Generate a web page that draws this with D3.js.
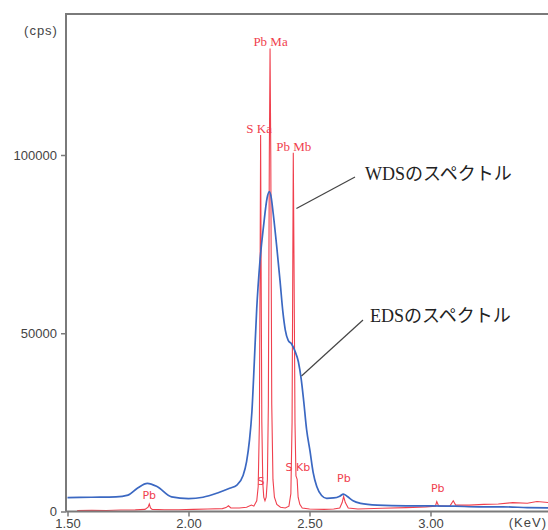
<!DOCTYPE html>
<html>
<head>
<meta charset="utf-8">
<script src="https://cdn.jsdelivr.net/npm/d3@7"></script>
<style>
  body { margin: 0; background: #fff; }
</style>
</head>
<body>
<script>

// EDS spectrum (blue), [keV, cps]
var edsData = [
  [1.50, 3900], [1.60, 4000], [1.70, 4100], [1.75, 4600], [1.79, 6600],
  [1.83, 7900], [1.87, 7000], [1.93, 4100], [2.00, 3600], [2.06, 4000],
  [2.12, 5200], [2.17, 6500], [2.20, 7400], [2.225, 10000], [2.240, 14000],
  [2.252, 20000], [2.262, 28000], [2.272, 42000], [2.282, 57000], [2.295, 70000],
  [2.310, 80000], [2.325, 88000], [2.334, 89700], [2.342, 88000], [2.350, 83600],
  [2.365, 74000], [2.378, 64900], [2.390, 56000], [2.400, 50900], [2.412, 48000],
  [2.426, 47000], [2.440, 45000], [2.454, 42000], [2.466, 37000], [2.476, 31000],
  [2.488, 23000], [2.502, 17000], [2.515, 11000], [2.530, 7000], [2.550, 4500],
  [2.571, 3700], [2.600, 3800], [2.625, 4300], [2.640, 4900], [2.655, 4300],
  [2.680, 3000], [2.711, 2300], [2.78, 1800], [2.90, 1600], [3.00, 1600],
  [3.10, 1500], [3.20, 1300], [3.30, 1300], [3.40, 1100], [3.49, 1000]
];

// WDS spectrum (red), [keV, cps]
var wdsData = [
  [1.54, 300], [1.60, 350], [1.66, 300], [1.72, 400], [1.78, 450],
  [1.82, 600], [1.833, 1200], [1.838, 2100], [1.843, 1000], [1.85, 600],
  [1.90, 500], [1.96, 500], [2.02, 600], [2.08, 700], [2.14, 800],
  [2.155, 1100], [2.165, 1600], [2.175, 1000], [2.21, 1000], [2.24, 1200],
  [2.26, 1800], [2.270, 1500], [2.282, 3000], [2.288, 7000], [2.293, 25000],
  [2.296, 70000], [2.298, 105600], [2.300, 70000], [2.303, 25000], [2.307, 8000],
  [2.311, 4000], [2.316, 3000], [2.321, 4000], [2.326, 9000], [2.330, 30000],
  [2.334, 100000], [2.337, 129900], [2.340, 100000], [2.344, 30000], [2.349, 9000],
  [2.355, 4000], [2.365, 2000], [2.38, 1200], [2.40, 1000], [2.415, 1500],
  [2.423, 5000], [2.428, 25000], [2.431, 70000], [2.433, 100600], [2.436, 70000],
  [2.440, 25000], [2.444, 10000], [2.449, 9000], [2.453, 4000], [2.46, 2000],
  [2.47, 1000], [2.50, 700], [2.56, 600], [2.60, 700], [2.625, 1000],
  [2.635, 2500], [2.641, 4200], [2.648, 2500], [2.66, 1000], [2.70, 700],
  [2.80, 900], [2.90, 1100], [2.98, 1300], [3.02, 1500], [3.026, 2800],
  [3.034, 1500], [3.08, 1500], [3.094, 3000], [3.104, 1800], [3.16, 1800],
  [3.22, 2000], [3.28, 2100], [3.34, 2500], [3.40, 2300], [3.44, 2800], [3.49, 2500]
];

// Axis ticks
var xTicks = [1.50, 2.00, 2.50, 3.00];
var yTicks = [0, 50000, 100000];

// Peak labels: [text, keV, cps]
var bigLabels = [
  ["Pb Ma", 2.339, 130600],
  ["S Ka", 2.292, 106300],
  ["Pb Mb", 2.435, 101200]
];
var smallLabels = [
  ["Pb", 1.838, 3500],
  ["S", 2.300, 7500],
  ["S Kb", 2.452, 11500],
  ["Pb", 2.642, 8200],
  ["Pb", 3.030, 5500]
];

// Annotations: [text, keV of tip, cps of tip]
var notes = [
  ["WDSのスペクトル", 2.446, 85000],
  ["EDSのスペクトル", 2.467, 38000]
];

drawChart();

function drawChart(){

  var w = 548;
  var h = 530;

  var svg = d3.select("body")
              .append("svg")
              .attr("width", w)
              .attr("height", h);

  var left = 66, top = 14, bottom = 511.5;

  var xScale = d3.scaleLinear()
                 .domain([1.5, 3.5])
                 .range([67.5, 67.5 + 2 * 242]);

  var yScale = d3.scaleLinear()
                 .domain([0, 100000])
                 .range([bottom, 155]);

  // Clip for the curves
  svg.append("clipPath")
     .attr("id", "plot")
     .append("rect")
     .attr("x", left)
     .attr("y", top)
     .attr("width", w - left)
     .attr("height", bottom - top);

  var line = d3.line()
               .x(d => xScale(d[0]))
               .y(d => yScale(d[1]));

  var curves = svg.append("g").attr("clip-path", "url(#plot)");

  curves.append("path")
        .datum(wdsData)
        .attr("d", line)
        .attr("fill", "none")
        .attr("stroke", "#f0404e")
        .attr("stroke-width", 1.1);

  curves.append("path")
        .datum(edsData)
        .attr("d", line.curve(d3.curveMonotoneX))
        .attr("fill", "none")
        .attr("stroke", "#3b68c2")
        .attr("stroke-width", 1.7);

  // Frame lines
  var frame = svg.append("g")
                 .attr("stroke", "#7a7a7a")
                 .attr("stroke-width", 2);
  frame.append("line").attr("x1", left).attr("x2", left).attr("y1", top - 1).attr("y2", bottom);
  frame.append("line").attr("x1", left).attr("x2", w).attr("y1", top).attr("y2", top);
  frame.append("line").attr("x1", left).attr("x2", w).attr("y1", bottom).attr("y2", bottom);

  // Axes
  var xAxis = svg.append("g")
                 .attr("transform", `translate(0, ${bottom})`)
                 .call(d3.axisBottom(xScale)
                         .tickValues(xTicks)
                         .tickFormat(d3.format(".2f"))
                         .tickSize(5)
                         .tickPadding(2));

  var yAxis = svg.append("g")
                 .attr("transform", `translate(${left}, 0)`)
                 .call(d3.axisLeft(yScale)
                         .tickValues(yTicks)
                         .tickFormat(d3.format("d"))
                         .tickSize(5)
                         .tickPadding(4));

  [xAxis, yAxis].forEach(function(a){
    a.select(".domain").remove();
    a.selectAll("line").attr("stroke", "#7a7a7a").attr("stroke-width", 1.5);
    a.selectAll("text")
     .attr("fill", "#444")
     .style("font-family", "Liberation Sans, Arial, sans-serif")
     .style("font-size", "13px");
  });

  // Units
  svg.append("text")
     .attr("x", 41)
     .attr("y", 35)
     .attr("text-anchor", "middle")
     .attr("fill", "#444")
     .style("font-family", "Liberation Sans, Arial, sans-serif")
     .style("font-size", "13px")
     .style("letter-spacing", "1px")
     .text("(cps)");

  svg.append("text")
     .attr("x", 547)
     .attr("y", 527)
     .attr("text-anchor", "end")
     .attr("fill", "#444")
     .style("font-family", "Liberation Sans, Arial, sans-serif")
     .style("font-size", "13px")
     .style("letter-spacing", "1px")
     .text("(KeV)");

  // Peak labels
  svg.selectAll(".big")
     .data(bigLabels)
     .enter()
     .append("text")
     .attr("x", d => xScale(d[1]))
     .attr("y", d => yScale(d[2]))
     .attr("text-anchor", "middle")
     .attr("fill", "#f0404e")
     .style("font-family", "Liberation Serif, serif")
     .style("font-size", "13px")
     .text(d => d[0]);

  svg.selectAll(".small")
     .data(smallLabels)
     .enter()
     .append("text")
     .attr("x", d => xScale(d[1]))
     .attr("y", d => yScale(d[2]))
     .attr("text-anchor", "middle")
     .attr("fill", "#f0404e")
     .style("font-family", "DejaVu Sans, sans-serif")
     .style("font-size", "11px")
     .text(d => d[0]);

  // Annotations with leader lines
  var textPos = [[365, 180], [370, 322]];
  var lineStart = [[355, 177], [363, 320]];

  notes.forEach(function(n, i){
    svg.append("line")
       .attr("x1", lineStart[i][0])
       .attr("y1", lineStart[i][1])
       .attr("x2", xScale(n[1]))
       .attr("y2", yScale(n[2]))
       .attr("stroke", "#444")
       .attr("stroke-width", 1.2);

    svg.append("text")
       .attr("x", textPos[i][0])
       .attr("y", textPos[i][1])
       .attr("fill", "#222")
       .style("font-family", "Liberation Serif, 'Noto Sans CJK JP', serif")
       .style("font-size", "18px")
       .text(n[0]);
  });

};

</script>
</body>
</html>
